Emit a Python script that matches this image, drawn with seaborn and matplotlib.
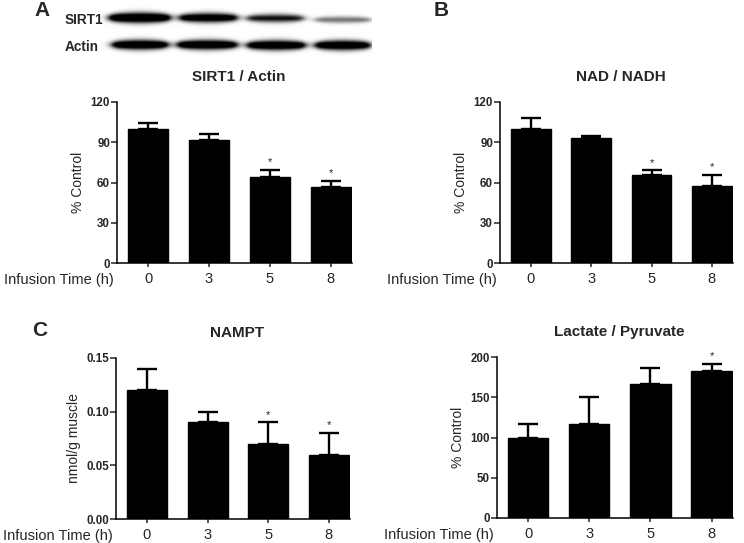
import numpy as np
import matplotlib
matplotlib.use("Agg")
import matplotlib.pyplot as plt
import seaborn as sns

# Dados
times = ['0', '3', '5', '8']

sirt1_actin = [100, 91.5, 64, 56.5]
sirt1_actin_err = [4, 4.5, 5.5, 4.5]
sirt1_actin_sig = [False, False, True, True]

nad_nadh = [100, 93.5, 65.5, 57.5]
nad_nadh_err = [8, 1.5, 3.5, 8]
nad_nadh_sig = [False, False, True, True]

nampt = [0.12, 0.09, 0.07, 0.06]
nampt_err = [0.02, 0.01, 0.02, 0.02]
nampt_sig = [False, False, True, True]

lac_pyr = [100, 117, 167, 183]
lac_pyr_err = [17, 33, 19, 8]
lac_pyr_sig = [False, False, False, True]

# intensidade das bandas do western blot (relativa)
sirt1_band = [1.0, 0.9, 0.74, 0.5]
actin_band = [0.95, 0.95, 0.95, 0.95]

sns.set_theme(style="ticks")
plt.rcParams['font.family'] = ['Liberation Sans', 'DejaVu Sans']

W, H = 744, 543
fig = plt.figure(figsize=(W / 100, H / 100), dpi=100)


def px_axes(x0, y0, x1, y1):
    return fig.add_axes([x0 / W, 1 - y1 / H, (x1 - x0) / W, (y1 - y0) / H])


def bar_panel(box, values, errs, sig, title, ylabel, yticks, fmt):
    ax = px_axes(*box)
    sns.barplot(x=times, y=values, color='black', saturation=1, width=0.66,
                edgecolor='black', errorbar=None, ax=ax)
    ax.errorbar(range(len(times)), values, yerr=[np.zeros(len(errs)), errs],
                fmt='none', ecolor='black', elinewidth=1.7, capsize=7.5,
                capthick=1.7, clip_on=False)
    for i, s in enumerate(sig):
        if s:
            ax.annotate('*', xy=(i, values[i] + errs[i]), xytext=(0, 2),
                        textcoords='offset points', ha='center', va='bottom',
                        fontsize=8, annotation_clip=False)
    ax.set_xlim(-0.51, 3.35)
    ax.set_ylim(yticks[0], yticks[-1])
    ax.set_yticks(yticks)
    ax.set_yticklabels([fmt.format(t) for t in yticks], fontsize=8.3,
                       fontweight='bold')
    ax.set_xticks(range(len(times)))
    ax.set_xticklabels(times, fontsize=10.5)
    ax.tick_params(axis='y', length=4, width=1.1, pad=1)
    ax.tick_params(axis='x', length=3, width=1.1, pad=3.5)
    ax.set_xlabel('')
    ax.set_ylabel(ylabel, fontsize=10, labelpad=4)
    for sp in ['top', 'right']:
        ax.spines[sp].set_visible(False)
    for sp in ['left', 'bottom']:
        ax.spines[sp].set_linewidth(1.1)
        ax.spines[sp].set_color('black')
    ax.annotate('Infusion Time (h)', xy=(0, 0), xycoords='axes fraction',
                xytext=(-2, -7.5), textcoords='offset points', ha='right',
                va='top', fontsize=10.5)
    xc = (box[0] + box[2]) / 2 + 4
    fig.text(xc / W, 1 - (box[1] - 25) / H, title, ha='center', va='center',
             fontsize=11, fontweight='bold')
    return ax


bar_panel((117, 102, 352, 263), sirt1_actin, sirt1_actin_err, sirt1_actin_sig,
          'SIRT1 / Actin', '% Control', [0, 30, 60, 90, 120], '{:g}')
bar_panel((500, 102, 733, 263), nad_nadh, nad_nadh_err, nad_nadh_sig,
          'NAD / NADH', '% Control', [0, 30, 60, 90, 120], '{:g}')
bar_panel((116, 358, 350, 519), nampt, nampt_err, nampt_sig,
          'NAMPT', 'nmol/g muscle', [0, 0.05, 0.10, 0.15], '{:.2f}')
bar_panel((497, 357, 733, 518), lac_pyr, lac_pyr_err, lac_pyr_sig,
          'Lactate / Pyruvate', '% Control', [0, 50, 100, 150, 200], '{:g}')

# Western blot
bx0, bx1, by0, by1 = 100, 372, 2, 60
blot = px_axes(bx0, by0, bx1, by1)
xx, yy = np.meshgrid(np.arange(bx0, bx1, 0.5), np.arange(by0, by1, 0.5))
dark = np.zeros_like(xx)
sirt1_lanes = [(109, 170, 17.5), (179, 237, 17.5), (247, 303, 18), (315, 370, 19.5)]
actin_lanes = [(112, 168, 44.5), (177, 237, 44.5), (247, 305, 45), (315, 370, 45)]
for lanes, inten in [(sirt1_lanes, sirt1_band), (actin_lanes, actin_band)]:
    for (l0, l1, yc), it in zip(lanes, inten):
        h = 1 / (1 + np.exp(-(xx - l0) / 2.5)) / (1 + np.exp((xx - l1) / 2.5))
        mid = (l0 + l1) / 2
        taper = 0.7 + 0.3 * (1 - ((xx - mid) / ((l1 - l0) / 2)) ** 2).clip(0, 1)
        thick = 3 + 5 * it
        s = thick / 1.6 * taper
        v = np.exp(-((yy - yc) / s) ** 2)
        dark += 1.5 * it ** 1.5 * v * h
img = 1 - np.clip(dark, 0, 1)
blot.imshow(img, cmap='gray', vmin=0, vmax=1, aspect='auto',
            extent=(bx0, bx1, by1, by0), interpolation='bilinear')
blot.set_axis_off()

fig.text(65 / W, 1 - 20 / H, 'SIRT1', ha='left', va='center', fontsize=9.8,
         fontweight='bold')
fig.text(65 / W, 1 - 47 / H, 'Actin', ha='left', va='center', fontsize=9.8,
         fontweight='bold')

# Letras dos painéis
for letter, x, y in [('A', 42, 11), ('B', 441, 11), ('C', 40, 331)]:
    fig.text(x / W, 1 - y / H, letter, ha='center', va='center', fontsize=15,
             fontweight='bold')

fig.savefig('out.png', dpi=100)
